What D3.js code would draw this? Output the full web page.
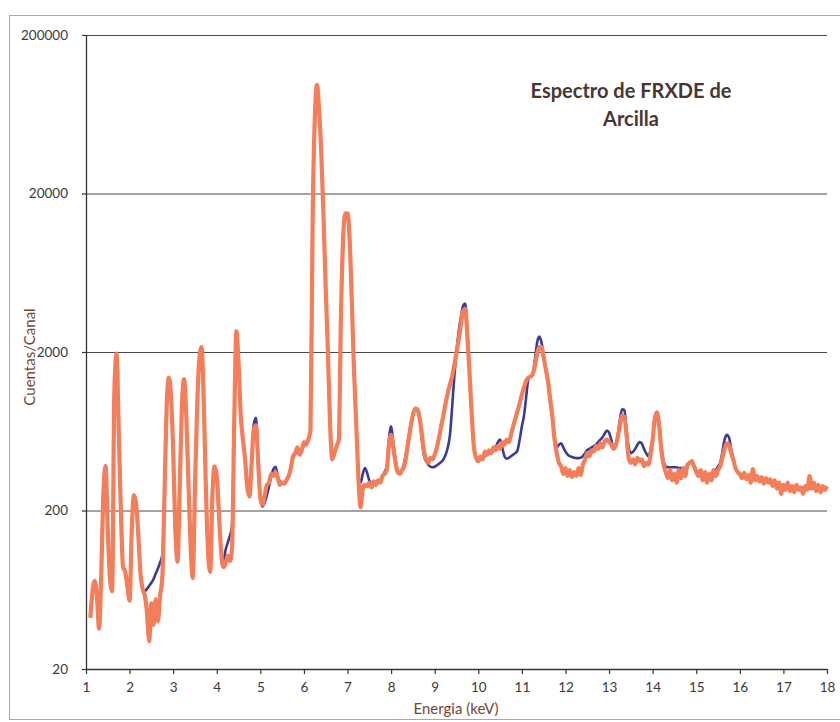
<!DOCTYPE html>
<html>
<head>
<meta charset="utf-8">
<script src="https://cdn.jsdelivr.net/npm/d3@7"></script>
<style>
    body { margin: 0; background: #fff; }
    text { font-family: Lato, "Open Sans", sans-serif; }
</style>
</head>
<body>
<div id="espectro"></div>
<script>

// energia de cada canal (keV)
var energia = [
    1.10, 1.15, 1.20, 1.25, 1.30, 1.35, 1.40, 1.45, 1.50, 1.55, 1.60, 1.65, 1.70, 1.75, 1.80, 1.85, 1.90, 1.95,
    2.00, 2.05, 2.10, 2.15, 2.20, 2.25, 2.30, 2.35, 2.40, 2.45, 2.50, 2.55, 2.60, 2.65, 2.70, 2.75, 2.80, 2.85, 2.90, 2.95,
    3.00, 3.05, 3.10, 3.15, 3.20, 3.25, 3.30, 3.35, 3.40, 3.45, 3.50, 3.55, 3.60, 3.65, 3.70, 3.75, 3.80, 3.85, 3.90, 3.95,
    4.00, 4.05, 4.10, 4.15, 4.20, 4.25, 4.30, 4.35, 4.40, 4.45, 4.50, 4.55, 4.60, 4.65, 4.70, 4.75, 4.80, 4.85, 4.90, 4.95,
    5.00, 5.05, 5.10, 5.15, 5.20, 5.25, 5.30, 5.35, 5.40, 5.45, 5.50, 5.55, 5.60, 5.65, 5.70, 5.75, 5.80, 5.85, 5.90, 5.95,
    6.00, 6.05, 6.10, 6.15, 6.20, 6.25, 6.30, 6.35, 6.40, 6.45, 6.50, 6.55, 6.60, 6.65, 6.70, 6.75, 6.80, 6.85, 6.90, 6.95,
    7.00, 7.05, 7.10, 7.15, 7.20, 7.25, 7.30, 7.35, 7.40, 7.45, 7.50, 7.55, 7.60, 7.65, 7.70, 7.75, 7.80, 7.85, 7.90, 7.95,
    8.00, 8.05, 8.10, 8.15, 8.20, 8.25, 8.30, 8.35, 8.40, 8.45, 8.50, 8.55, 8.60, 8.65, 8.70, 8.75, 8.80, 8.85, 8.90, 8.95,
    9.00, 9.05, 9.10, 9.15, 9.20, 9.25, 9.30, 9.35, 9.40, 9.45, 9.50, 9.55, 9.60, 9.65, 9.70, 9.75, 9.80, 9.85, 9.90, 9.95,
    10.00, 10.05, 10.10, 10.15, 10.20, 10.25, 10.30, 10.35, 10.40, 10.45, 10.50, 10.55, 10.60, 10.65, 10.70, 10.75, 10.80, 10.85, 10.90, 10.95,
    11.00, 11.05, 11.10, 11.15, 11.20, 11.25, 11.30, 11.35, 11.40, 11.45, 11.50, 11.55, 11.60, 11.65, 11.70, 11.75, 11.80, 11.85, 11.90, 11.95,
    12.00, 12.05, 12.10, 12.15, 12.20, 12.25, 12.30, 12.35, 12.40, 12.45, 12.50, 12.55, 12.60, 12.65, 12.70, 12.75, 12.80, 12.85, 12.90, 12.95,
    13.00, 13.05, 13.10, 13.15, 13.20, 13.25, 13.30, 13.35, 13.40, 13.45, 13.50, 13.55, 13.60, 13.65, 13.70, 13.75, 13.80, 13.85, 13.90, 13.95,
    14.00, 14.05, 14.10, 14.15, 14.20, 14.25, 14.30, 14.35, 14.40, 14.45, 14.50, 14.55, 14.60, 14.65, 14.70, 14.75, 14.80, 14.85, 14.90, 14.95,
    15.00, 15.05, 15.10, 15.15, 15.20, 15.25, 15.30, 15.35, 15.40, 15.45, 15.50, 15.55, 15.60, 15.65, 15.70, 15.75, 15.80, 15.85, 15.90, 15.95,
    16.00, 16.05, 16.10, 16.15, 16.20, 16.25, 16.30, 16.35, 16.40, 16.45, 16.50, 16.55, 16.60, 16.65, 16.70, 16.75, 16.80, 16.85, 16.90, 16.95,
    17.00, 17.05, 17.10, 17.15, 17.20, 17.25, 17.30, 17.35, 17.40, 17.45, 17.50, 17.55, 17.60, 17.65, 17.70, 17.75, 17.80, 17.85, 17.90, 17.95,
    18.00
];

// espectro naranja (dibujado encima)
var cuentasNaranja = [
    42, 62, 72, 58, 36, 80, 260, 380, 150, 75, 62, 1100, 1950, 650, 200, 88, 82, 66,
    54, 150, 250, 220, 140, 80, 64, 58, 45, 30, 52, 38, 55, 40, 58, 75, 250, 900, 1380, 1050,
    480, 150, 95, 280, 900, 1350, 800, 300, 120, 75, 280, 900, 1800, 2150, 1000, 280, 110, 82, 250, 380,
    330, 190, 110, 88, 92, 104, 96, 115, 700, 2700, 1700, 800, 560, 420, 280, 245, 400, 650, 690, 400,
    240, 218, 250, 290, 300, 340, 330, 350, 320, 290, 300, 295, 310, 330, 370, 440, 460, 500, 450, 480,
    540, 520, 560, 650, 14000, 60000, 97000, 65000, 35000, 14000, 5000, 2000, 700, 420, 460, 510, 560, 3500, 10500, 15000,
    15000, 10000, 4000, 1500, 700, 320, 210, 275, 290, 285, 300, 280, 305, 290, 310, 300, 330, 340, 360, 520,
    600, 500, 400, 350, 340, 360, 380, 450, 560, 680, 800, 880, 870, 780, 620, 480, 420, 400, 430, 420,
    450, 500, 580, 680, 800, 950, 1100, 1250, 1400, 1650, 2000, 2400, 3000, 3600, 3750, 2500, 1450, 800, 500, 430,
    410, 440, 420, 470, 450, 480, 460, 500, 480, 510, 490, 540, 520, 560, 540, 600, 680, 760, 850, 950,
    1080, 1200, 1320, 1380, 1400, 1450, 1650, 1950, 2150, 2150, 1850, 1550, 1300, 1000, 780, 560, 460, 400, 380, 340,
    370, 330, 360, 325, 350, 330, 370, 335, 390, 420, 460, 440, 480, 470, 510, 490, 530, 500, 550, 560,
    540, 520, 490, 510, 580, 690, 790, 780, 600, 430, 400, 420, 390, 430, 410, 420, 380, 400, 390, 450,
    560, 760, 830, 680, 480, 390, 350, 320, 360, 310, 340, 300, 360, 320, 370, 330, 390, 400, 410, 380,
    350, 330, 360, 310, 350, 300, 340, 310, 360, 330, 360, 380, 430, 490, 530, 520, 460, 420, 370, 350,
    340, 320, 345, 315, 335, 300, 365, 310, 330, 305, 325, 295, 320, 300, 315, 285, 310, 275, 300, 255,
    290, 270, 300, 265, 285, 260, 290, 270, 280, 255, 285, 270, 330, 275, 300, 265, 290, 260, 285, 270,
    285
];

// espectro azul (debajo)
var cuentasAzul = [
    44, 60, 68, 58, 40, 80, 260, 385, 150, 75, 62, 1100, 1980, 650, 200, 90, 82, 68,
    56, 150, 250, 220, 140, 80, 64, 62, 64, 67, 70, 74, 80, 86, 94, 105, 250, 900, 1380, 1050,
    480, 150, 95, 280, 900, 1350, 800, 300, 120, 75, 280, 900, 1800, 2150, 1000, 280, 110, 82, 250, 380,
    330, 190, 110, 95, 112, 125, 138, 160, 700, 2700, 1700, 800, 560, 420, 280, 245, 420, 700, 770, 420,
    235, 212, 225, 250, 285, 330, 365, 378, 330, 305, 300, 300, 315, 335, 375, 430, 465, 480, 470, 480,
    520, 530, 560, 650, 14000, 60000, 97000, 65000, 35000, 14000, 5000, 2000, 700, 420, 460, 510, 560, 3500, 10500, 15000,
    15000, 10000, 4000, 1500, 700, 330, 300, 340, 370, 345, 310, 300, 300, 300, 305, 310, 330, 350, 380, 560,
    680, 540, 420, 360, 345, 360, 400, 470, 580, 700, 810, 880, 860, 760, 580, 450, 410, 390, 378, 375,
    378, 385, 395, 405, 420, 450, 500, 600, 900, 1400, 2000, 2700, 3300, 3900, 4050, 2700, 1500, 800, 500, 430,
    410, 420, 430, 440, 450, 460, 470, 480, 500, 540, 560, 500, 440, 425, 430, 440, 450, 460, 480, 560,
    680, 800, 1050, 1350, 1400, 1450, 1800, 2300, 2500, 2300, 1900, 1550, 1300, 1000, 780, 580, 500, 520, 530, 500,
    470, 450, 440, 435, 430, 428, 428, 430, 440, 460, 480, 490, 500, 510, 520, 540, 560, 580, 610, 640,
    620, 560, 500, 520, 600, 750, 870, 860, 650, 500, 460, 470, 490, 520, 540, 530, 490, 460, 440, 480,
    580, 780, 840, 700, 500, 410, 380, 375, 375, 375, 375, 375, 370, 370, 370, 370, 385, 400, 405, 385,
    360, 345, 340, 335, 335, 330, 330, 335, 345, 360, 380, 400, 470, 560, 600, 580, 490, 420, 370, 350,
    335, 332, 330, 328, 325, 322, 320, 318, 315, 312, 310, 308, 305, 303, 300, 298, 296, 294, 292, 290,
    288, 286, 285, 284, 283, 282, 281, 280, 279, 278, 277, 276, 276, 275, 275, 274, 274, 273, 273, 272,
    272
];

var yTicks = [20, 200, 2000, 20000, 200000];
var xTicks = [1, 2, 3, 4, 5, 6, 7, 8, 9, 10, 11, 12, 13, 14, 15, 16, 17, 18];
var tituloLineas = ["Espectro de FRXDE de", "Arcilla"];


function EspectroChart(id) {
    var self = this;
    self.sectionId = id;
    self.initVis();
}

EspectroChart.prototype.initVis = function () {
    var self = this;

    self.svgWidth = 840;
    self.svgHeight = 722;
    self.plot = { left: 86, right: 827, top: 35, bottom: 669 };

    self.svg = d3.select("#" + self.sectionId)
        .append("svg")
        .attr("width", self.svgWidth)
        .attr("height", self.svgHeight);

    // marco exterior del grafico
    self.svg.append("rect")
        .attr("x", 9.5).attr("y", 15.5)
        .attr("width", 840).attr("height", 704)
        .attr("fill", "none")
        .attr("stroke", "#a8a8a8")
        .attr("stroke-width", 1);

    self.x = d3.scaleLinear()
        .domain([1, 18])
        .range([self.plot.left, self.plot.right]);

    self.y = d3.scaleLog()
        .domain([20, 200000])
        .range([self.plot.bottom, self.plot.top]);

    self.drawAxes();
    self.update();
}

EspectroChart.prototype.drawAxes = function () {
    var self = this;
    var w = self.plot.right - self.plot.left;

    // lineas de la rejilla
    self.svg.append("g")
        .attr("transform", "translate(" + self.plot.left + ",0)")
        .call(d3.axisLeft(self.y).tickValues(yTicks.slice(1)).tickSize(-w).tickFormat(""))
        .call(function (g) { g.select(".domain").remove(); })
        .selectAll("line")
        .attr("stroke", "#4a4a4a")
        .attr("stroke-width", 1.2);

    var yAxis = self.svg.append("g")
        .attr("transform", "translate(" + self.plot.left + ",0)")
        .call(d3.axisLeft(self.y)
            .tickValues(yTicks)
            .tickFormat(d3.format("d"))
            .tickSize(4)
            .tickSizeOuter(0)
            .tickPadding(14));

    var xAxis = self.svg.append("g")
        .attr("transform", "translate(0," + self.plot.bottom + ")")
        .call(d3.axisBottom(self.x)
            .tickValues(xTicks)
            .tickSize(5)
            .tickSizeOuter(0)
            .tickPadding(8));

    [yAxis, xAxis].forEach(function (ax) {
        ax.select(".domain").attr("stroke", "#333").attr("stroke-width", 1.3);
        ax.selectAll(".tick line").attr("stroke", "#333").attr("stroke-width", 1.2);
        ax.selectAll(".tick text")
            .attr("fill", "#3a3a3a")
            .style("font-family", "Lato, sans-serif")
            .style("font-size", "13.5px");
    });

    // titulos de los ejes
    self.svg.append("text")
        .attr("x", 456).attr("y", 714)
        .attr("text-anchor", "middle")
        .attr("fill", "#7a4536")
        .style("font-size", "15px")
        .text("Energia (keV)");

    self.svg.append("text")
        .attr("transform", "translate(35,357) rotate(-90)")
        .attr("text-anchor", "middle")
        .attr("fill", "#7a4536")
        .style("font-size", "15px")
        .text("Cuentas/Canal");

    // titulo del grafico
    self.svg.append("text")
        .attr("x", 631).attr("y", 98)
        .attr("text-anchor", "middle")
        .attr("fill", "#4a3630")
        .style("font-size", "20px")
        .style("font-weight", "bold")
        .selectAll("tspan")
        .data(tituloLineas)
        .enter()
        .append("tspan")
        .attr("x", 631)
        .attr("dy", function (d, i) { return i === 0 ? 0 : 28; })
        .text(function (d) { return d; });
}

EspectroChart.prototype.update = function () {
    var self = this;

    var line = d3.line()
        .x(function (d) { return self.x(d[0]); })
        .y(function (d) { return self.y(d[1]); })
        .curve(d3.curveMonotoneX);

    var series = [
        { valores: cuentasAzul, color: "#383c96", ancho: 2.6 },
        { valores: cuentasNaranja, color: "#f47d5a", ancho: 4.2 }
    ];

    self.svg.append("g")
        .selectAll("path")
        .data(series)
        .enter()
        .append("path")
        .attr("fill", "none")
        .attr("stroke", function (d) { return d.color; })
        .attr("stroke-width", function (d) { return d.ancho; })
        .attr("stroke-linejoin", "round")
        .attr("d", function (d) {
            return line(energia.map(function (e, i) { return [e, d.valores[i]]; }));
        });
}

new EspectroChart("espectro");

</script>
</body>
</html>
